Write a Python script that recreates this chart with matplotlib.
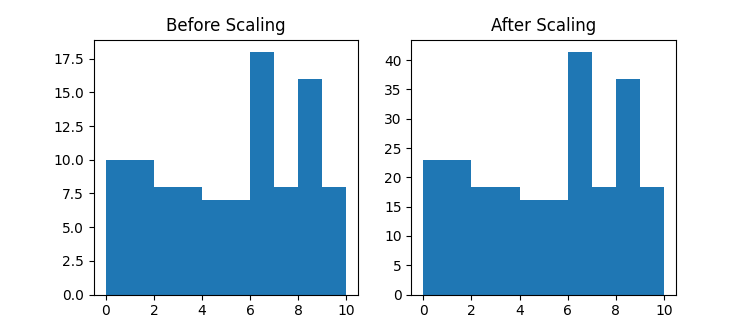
import matplotlib
matplotlib.use("Agg")
import matplotlib.pyplot as plt
import numpy as np

# bin edges and counts
bin_edges = [0, 1, 2, 3, 4, 5, 6, 7, 8, 9, 10]
counts_before = [10, 10, 8, 8, 7, 7, 18, 8, 16, 8]
scale = 2.3
counts_after = [c * scale for c in counts_before]

centers = [(a + b) / 2 for a, b in zip(bin_edges[:-1], bin_edges[1:])]

fig, (ax1, ax2) = plt.subplots(1, 2, figsize=(7.51, 3.31), dpi=100)

ax1.hist(centers, bins=bin_edges, weights=counts_before)
ax1.set_title("Before Scaling")

ax2.hist(centers, bins=bin_edges, weights=counts_after)
ax2.set_title("After Scaling")

fig.savefig("out.png", dpi=100)
